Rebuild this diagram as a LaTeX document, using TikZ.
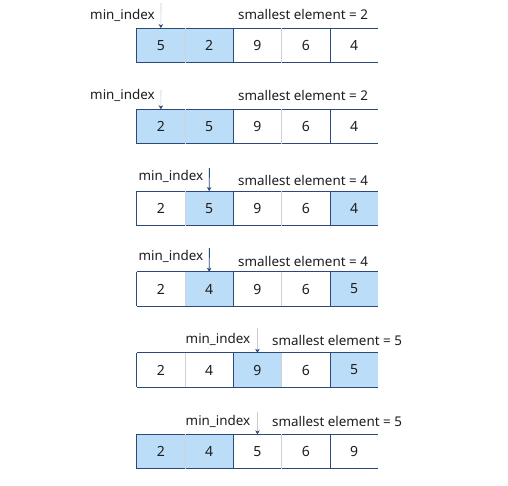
\documentclass[tikz,border=0pt]{standalone}
\usepackage{fontspec}
\setmainfont{Noto Sans}
\usetikzlibrary{arrows.meta}
\definecolor{navy}{HTML}{2B4A7A}
\definecolor{cellblue}{HTML}{BCDDF7}
\definecolor{sepl}{HTML}{C9D3E0}
\definecolor{txt}{HTML}{1E1E1E}
\tikzset{
  cell/.style={minimum width=48.3pt, minimum height=34pt, inner sep=0pt, text=txt, font=\fontsize{14}{16}\selectfont},
  lbl/.style={inner sep=0pt, text=txt, font=\fontsize{13.4}{15}\selectfont},
  bord/.style={draw=navy, line width=0.9pt},
  lsep/.style={draw=sepl, line width=0.9pt},
  ptrlight/.style={draw=gray!40, line width=0.6pt, -{Stealth[color=navy,length=4pt,width=4.5pt]}},
  ptrdark/.style={draw=navy, line width=0.9pt, -{Stealth[color=navy,length=4pt,width=4.5pt]}},
}
\newcommand\cellrow[3]{%
  \foreach \v/\f [count=\i] in {#3} {
    \node[cell, fill=\f] (#1c\i) at ({136.7+(\i-0.5)*48.3}, #2) {\v};
  }
  \draw[bord] (#1c1.north west) -- (#1c5.north east);
  \draw[bord] (#1c1.south west) -- (#1c5.south east);
  \draw[bord] (#1c1.north west) -- (#1c1.south west);
  \draw[lsep] (#1c1.north east) -- (#1c1.south east);
  \draw[bord] (#1c2.north east) -- (#1c2.south east);
  \draw[lsep] (#1c3.north east) -- (#1c3.south east);
  \draw[bord] (#1c4.north east) -- (#1c4.south east);
}
\begin{document}
\begin{tikzpicture}[x=1pt, y=-1pt]
\useasboundingbox[fill=white] (0,0) rectangle (508,485);

% Row 1
\cellrow{ra}{45.3}{5/cellblue,2/cellblue,9/white,6/white,4/white}
\coordinate (pa) at (161,3);
\draw[ptrlight] (pa) -- (rac1.north);
\node[lbl, anchor=base east] (ma) at (155,19) {min\_index};
\node[lbl, anchor=base west] (sa) at (238,19) {smallest element = 2};

% Row 2
\cellrow{rb}{126.5}{2/cellblue,5/cellblue,9/white,6/white,4/white}
\coordinate (pb) at (161,90);
\draw[ptrlight] (pb) -- (rbc1.north);
\node[lbl, anchor=base east] (mb) at (155,99.5) {min\_index};
\node[lbl, anchor=base west] (sb) at (238,100.7) {smallest element = 2};

% Row 3
\cellrow{rc}{208.3}{2/white,5/cellblue,9/white,6/white,4/cellblue}
\coordinate (pc) at (209.4,168);
\draw[ptrdark] (pc) -- (rcc2.north);
\node[lbl, anchor=base east] (mc) at (203.4,180) {min\_index};
\node[lbl, anchor=base west] (sc) at (238,185) {smallest element = 4};

% Row 4
\cellrow{rd}{289}{2/white,4/cellblue,9/white,6/white,5/cellblue}
\coordinate (pd) at (209.4,248);
\draw[ptrdark] (pd) -- (rdc2.north);
\node[lbl, anchor=base east] (md) at (203.4,260.7) {min\_index};
\node[lbl, anchor=base west] (sd) at (238,266.7) {smallest element = 4};

% Row 5
\cellrow{re}{370}{2/white,4/white,9/cellblue,6/white,5/cellblue}
\coordinate (pe) at (257.5,328);
\draw[ptrlight] (pe) -- (rec3.north);
\node[lbl, anchor=base east] (me) at (250.5,343.3) {min\_index};
\node[lbl, anchor=base west] (se) at (272,345) {smallest element = 5};

% Row 6
\cellrow{rf}{451.5}{2/cellblue,4/cellblue,5/white,6/white,9/white}
\coordinate (pf) at (257.5,412);
\draw[ptrlight] (pf) -- (rfc3.north);
\node[lbl, anchor=base east] (mf) at (250.5,425) {min\_index};
\node[lbl, anchor=base west] (sf) at (272,426) {smallest element = 5};
\end{tikzpicture}
\end{document}
